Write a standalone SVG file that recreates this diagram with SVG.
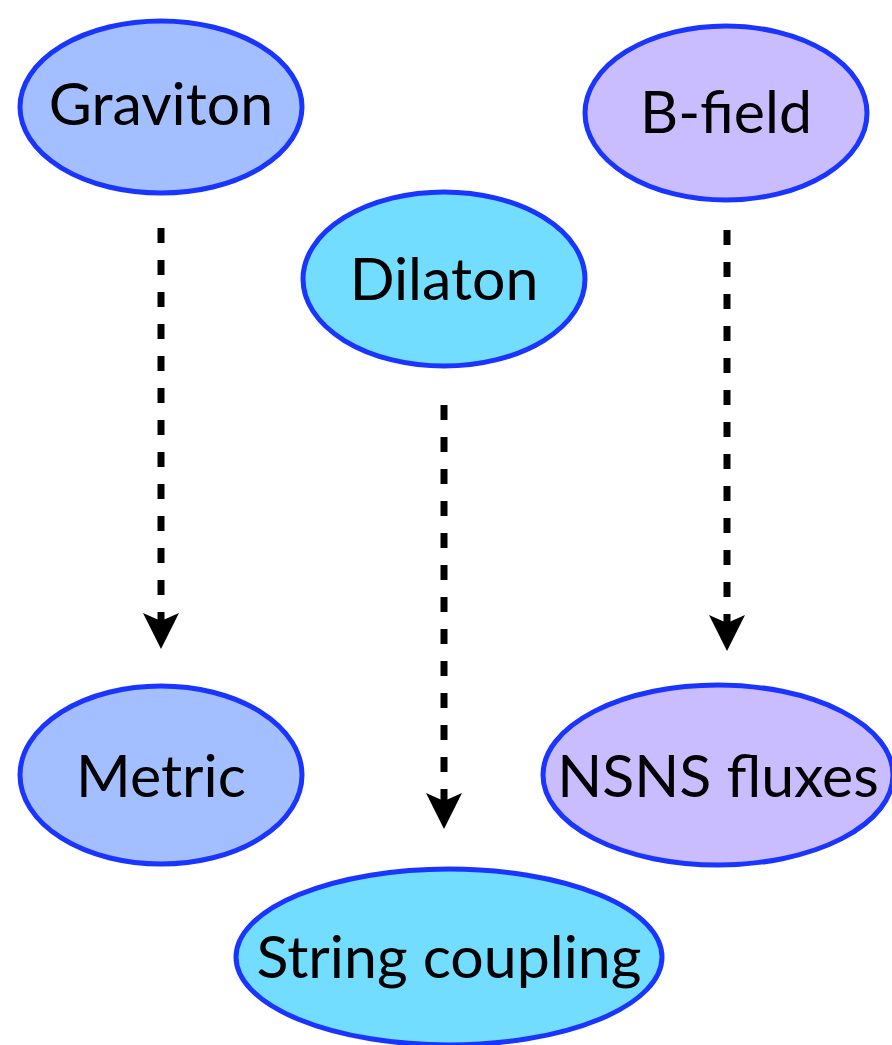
<svg xmlns="http://www.w3.org/2000/svg" width="892" height="1045" viewBox="0 0 892 1045">
  <defs>
    <style>
      .node ellipse { stroke: #1a35ff; stroke-width: 5; }
      .grav { fill: #a3bfff; }
      .dil { fill: #72ddff; }
      .bf { fill: #c9bcff; }
      .node text { font-family: "Lato", "Open Sans", sans-serif; font-size: 59px; fill: #000; text-anchor: middle; }
      .link { stroke: #000; stroke-width: 7; stroke-dasharray: 15 17; fill: none; }
      .head { fill: #000; }
    </style>
  </defs>
  <rect width="892" height="1045" fill="#fff"/>

  <!-- dashed arrows: each dash run ends on a dash under the notched head -->
  <g id="connectors">
    <line class="link" x1="161" y1="228" x2="161" y2="627"/>
    <path class="head" d="M143,613 L161,621 L179,613 L161,649 Z"/>
    <line class="link" x1="444" y1="405" x2="444" y2="804"/>
    <path class="head" d="M426,793 L444,801 L462,793 L444,829 Z"/>
    <line class="link" x1="727" y1="230" x2="727" y2="629"/>
    <path class="head" d="M709,615 L727,623 L745,615 L727,651 Z"/>
  </g>

  <g id="graviton" class="node">
    <ellipse class="grav" cx="161" cy="107" rx="141" ry="86"/>
    <text x="161" y="125">Graviton</text>
  </g>
  <g id="bfield" class="node">
    <ellipse class="bf" cx="726" cy="113" rx="141" ry="87"/>
    <text x="726" y="133">B-field</text>
  </g>
  <g id="dilaton" class="node">
    <ellipse class="dil" cx="444" cy="279" rx="141" ry="87"/>
    <text x="444" y="300">Dilaton</text>
  </g>
  <g id="metric" class="node">
    <ellipse class="grav" cx="161" cy="775" rx="141" ry="89"/>
    <text x="161" y="797">Metric</text>
  </g>
  <g id="nsns" class="node">
    <ellipse class="bf" cx="718" cy="775" rx="175" ry="90"/>
    <text x="718" y="797">NSNS fluxes</text>
  </g>
  <g id="coupling" class="node">
    <ellipse class="dil" cx="449" cy="957" rx="213" ry="88"/>
    <text x="449" y="978">String coupling</text>
  </g>
</svg>
